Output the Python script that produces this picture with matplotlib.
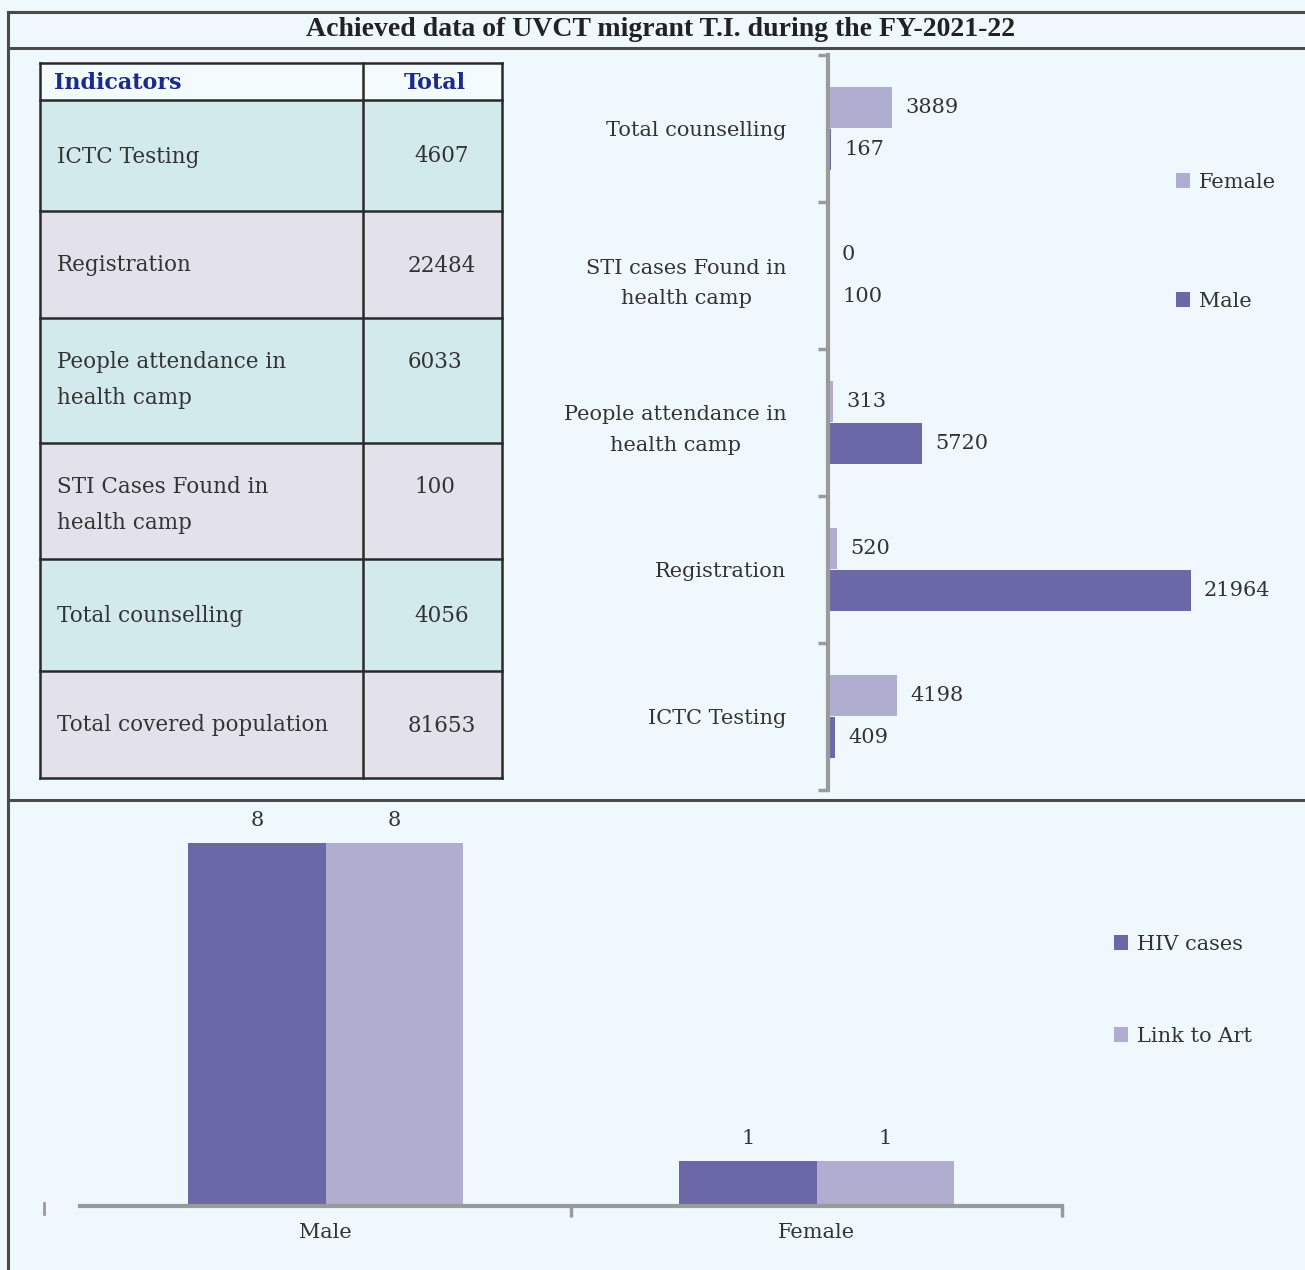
import matplotlib
matplotlib.use("Agg")
import matplotlib.pyplot as plt
from matplotlib.patches import Rectangle

# table data
indicators = ["ICTC Testing", "Registration", "People attendance in\nhealth camp",
              "STI Cases Found in\nhealth camp", "Total counselling", "Total covered population"]
totals = [4607, 22484, 6033, 100, 4056, 81653]

# horizontal bar data (bottom to top)
hb_cats = ["ICTC Testing", "Registration", "People attendance in\nhealth camp",
           "STI cases Found in\nhealth camp", "Total counselling"]
female = [4198, 520, 313, 0, 3889]
male = [409, 21964, 5720, 100, 167]

# bottom chart data
sex_cats = ["Male", "Female"]
hiv_cases = [8, 1]
link_to_art = [8, 1]

W, H = 1305, 1270
BG = "#eff8fc"
DARK = "#6b68a8"
LIGHT = "#b0aed0"
AXC = "#9a9a9a"
TXT = "#333333"
plt.rcParams['font.family'] = ["DejaVu Serif", "Liberation Serif"]

fig = plt.figure(figsize=(W / 100, H / 100), dpi=100)
fig.patch.set_facecolor(BG)

def fx(x):
    return x / W

def fy(y):
    return 1 - y / H

# overlay axes in pixel coords for frame + table
ov = fig.add_axes([0, 0, 1, 1])
ov.set_xlim(0, W)
ov.set_ylim(H, 0)
ov.axis("off")
ov.set_zorder(0)

# frame lines
for y in [12, 48, 800]:
    ov.plot([8, W], [y, y], color="#4a4a4a", lw=2.2)
ov.plot([8, 8], [12, H], color="#4a4a4a", lw=2.2)
ov.text(661, 30, "Achieved data of UVCT migrant T.I. during the FY-2021-22",
        ha="center", va="center", fontsize=20, fontweight="bold", color="#222222",
        family="Liberation Serif")
# stray tick at far left of bottom axis
ov.plot([44, 44], [1203, 1214], color=AXC, lw=2)

# table
tx0, tx1, tx2 = 40, 363, 502
row_edges = [63, 100, 211, 318, 443, 559, 671, 778]
ov.add_patch(Rectangle((tx0, 63), tx2 - tx0, 37, facecolor="#f4fbfd", edgecolor="none"))
for i in range(len(indicators)):
    y0, y1 = row_edges[i + 1], row_edges[i + 2]
    col = "#d3eaec" if i % 2 == 0 else "#e3e1ea"
    ov.add_patch(Rectangle((tx0, y0), tx2 - tx0, y1 - y0, facecolor=col, edgecolor="none"))
for y in row_edges:
    ov.plot([tx0, tx2], [y, y], color="#2a2a2a", lw=1.8)
for x in [tx0, tx1, tx2]:
    ov.plot([x, x], [63, 778], color="#2a2a2a", lw=1.8)
ov.text(54, 83, "Indicators", ha="left", va="center", fontsize=16, fontweight="bold", color="#1b2a8c")
ov.text(435, 83, "Total", ha="center", va="center", fontsize=16, fontweight="bold", color="#1b2a8c")
for i, (name, tot) in enumerate(zip(indicators, totals)):
    y0, y1 = row_edges[i + 1], row_edges[i + 2]
    yc = (y0 + y1) / 2
    if "\n" in name:
        ov.text(57, y0 + 33, name, ha="left", va="top", fontsize=15.5, color=TXT, linespacing=1.85)
        ov.text(435, y0 + 33, str(tot), ha="center", va="top", fontsize=15.5, color=TXT)
    else:
        ov.text(57, yc + 1, name, ha="left", va="center", fontsize=15.5, color=TXT)
        ov.text(442, yc + 1, str(tot), ha="center", va="center", fontsize=15.5, color=TXT)

# horizontal bar chart
ax = fig.add_axes([fx(828), fy(790), fx(1241) - fx(828), fy(55) - fy(790)])
ax.patch.set_alpha(0)
pos = list(range(len(hb_cats)))
bh = 0.28
off = 0.143
bf = ax.barh([p + off for p in pos], female, height=bh, color=LIGHT, label="Female")
bm = ax.barh([p - off for p in pos], male, height=bh, color=DARK, label="Male")
ax.set_xlim(0, 25000)
ax.set_ylim(-0.5, len(hb_cats) - 0.5)
for p, f, m in zip(pos, female, male):
    ax.text(f + 800, p + off, str(f), va="center", ha="left", fontsize=15, color=TXT)
    ax.text(m + 800, p - off, str(m), va="center", ha="left", fontsize=15, color=TXT)
for s in ["top", "right", "bottom"]:
    ax.spines[s].set_visible(False)
ax.spines["left"].set_color(AXC)
ax.spines["left"].set_linewidth(3)
ax.set_xticks([])
ax.set_yticks(pos)
ax.set_yticklabels(hb_cats, fontsize=15, color=TXT, multialignment="center", linespacing=1.75)
ax.tick_params(axis="y", which="major", length=0, pad=30)
ax.set_yticks([p - 0.5 for p in range(len(hb_cats) + 1)], minor=True)
ax.tick_params(axis="y", which="minor", length=7, width=2.5, color=AXC)
leg = ax.legend(handles=[bf, bm],
                loc="upper left", bbox_to_anchor=(fx(1157), fy(154)), bbox_transform=fig.transFigure,
                frameon=False, fontsize=15, handlelength=0.7, handleheight=0.7,
                handletextpad=0.4, labelspacing=4.8)
for t in leg.get_texts():
    t.set_color(TXT)

# bottom grouped bar chart
bx = fig.add_axes([fx(80), fy(1206), fx(1062) - fx(80), fy(820) - fy(1206)])
bx.patch.set_alpha(0)
xs = list(range(len(sex_cats)))
bw = 0.28
b1 = bx.bar([x - bw / 2 for x in xs], hiv_cases, width=bw, color=DARK, label="HIV cases")
b2 = bx.bar([x + bw / 2 for x in xs], link_to_art, width=bw, color=LIGHT, label="Link to Art")
for x, a, b in zip(xs, hiv_cases, link_to_art):
    bx.text(x - bw / 2, a + 0.48, str(a), ha="center", va="center", fontsize=15, color=TXT)
    bx.text(x + bw / 2, b + 0.48, str(b), ha="center", va="center", fontsize=15, color=TXT)
bx.set_xlim(-0.5, 1.5)
bx.set_ylim(0, 8.5)
for s in ["top", "right", "left"]:
    bx.spines[s].set_visible(False)
bx.spines["bottom"].set_color(AXC)
bx.spines["bottom"].set_linewidth(3)
bx.set_yticks([])
bx.set_xticks(xs)
bx.set_xticklabels(sex_cats, fontsize=15, color=TXT)
bx.tick_params(axis="x", which="major", length=0, pad=12)
bx.set_xticks([0.5, 1.5], minor=True)
bx.tick_params(axis="x", which="minor", length=8, width=2.5, color=AXC)
leg2 = bx.legend(handles=[b1, b2], loc="upper left", bbox_to_anchor=(fx(1095), fy(916)),
                 bbox_transform=fig.transFigure, frameon=False, fontsize=15,
                 handlelength=0.7, handleheight=0.7, handletextpad=0.4, labelspacing=3.5)
for t in leg2.get_texts():
    t.set_color(TXT)

fig.savefig("out.png", dpi=100, facecolor=BG)
